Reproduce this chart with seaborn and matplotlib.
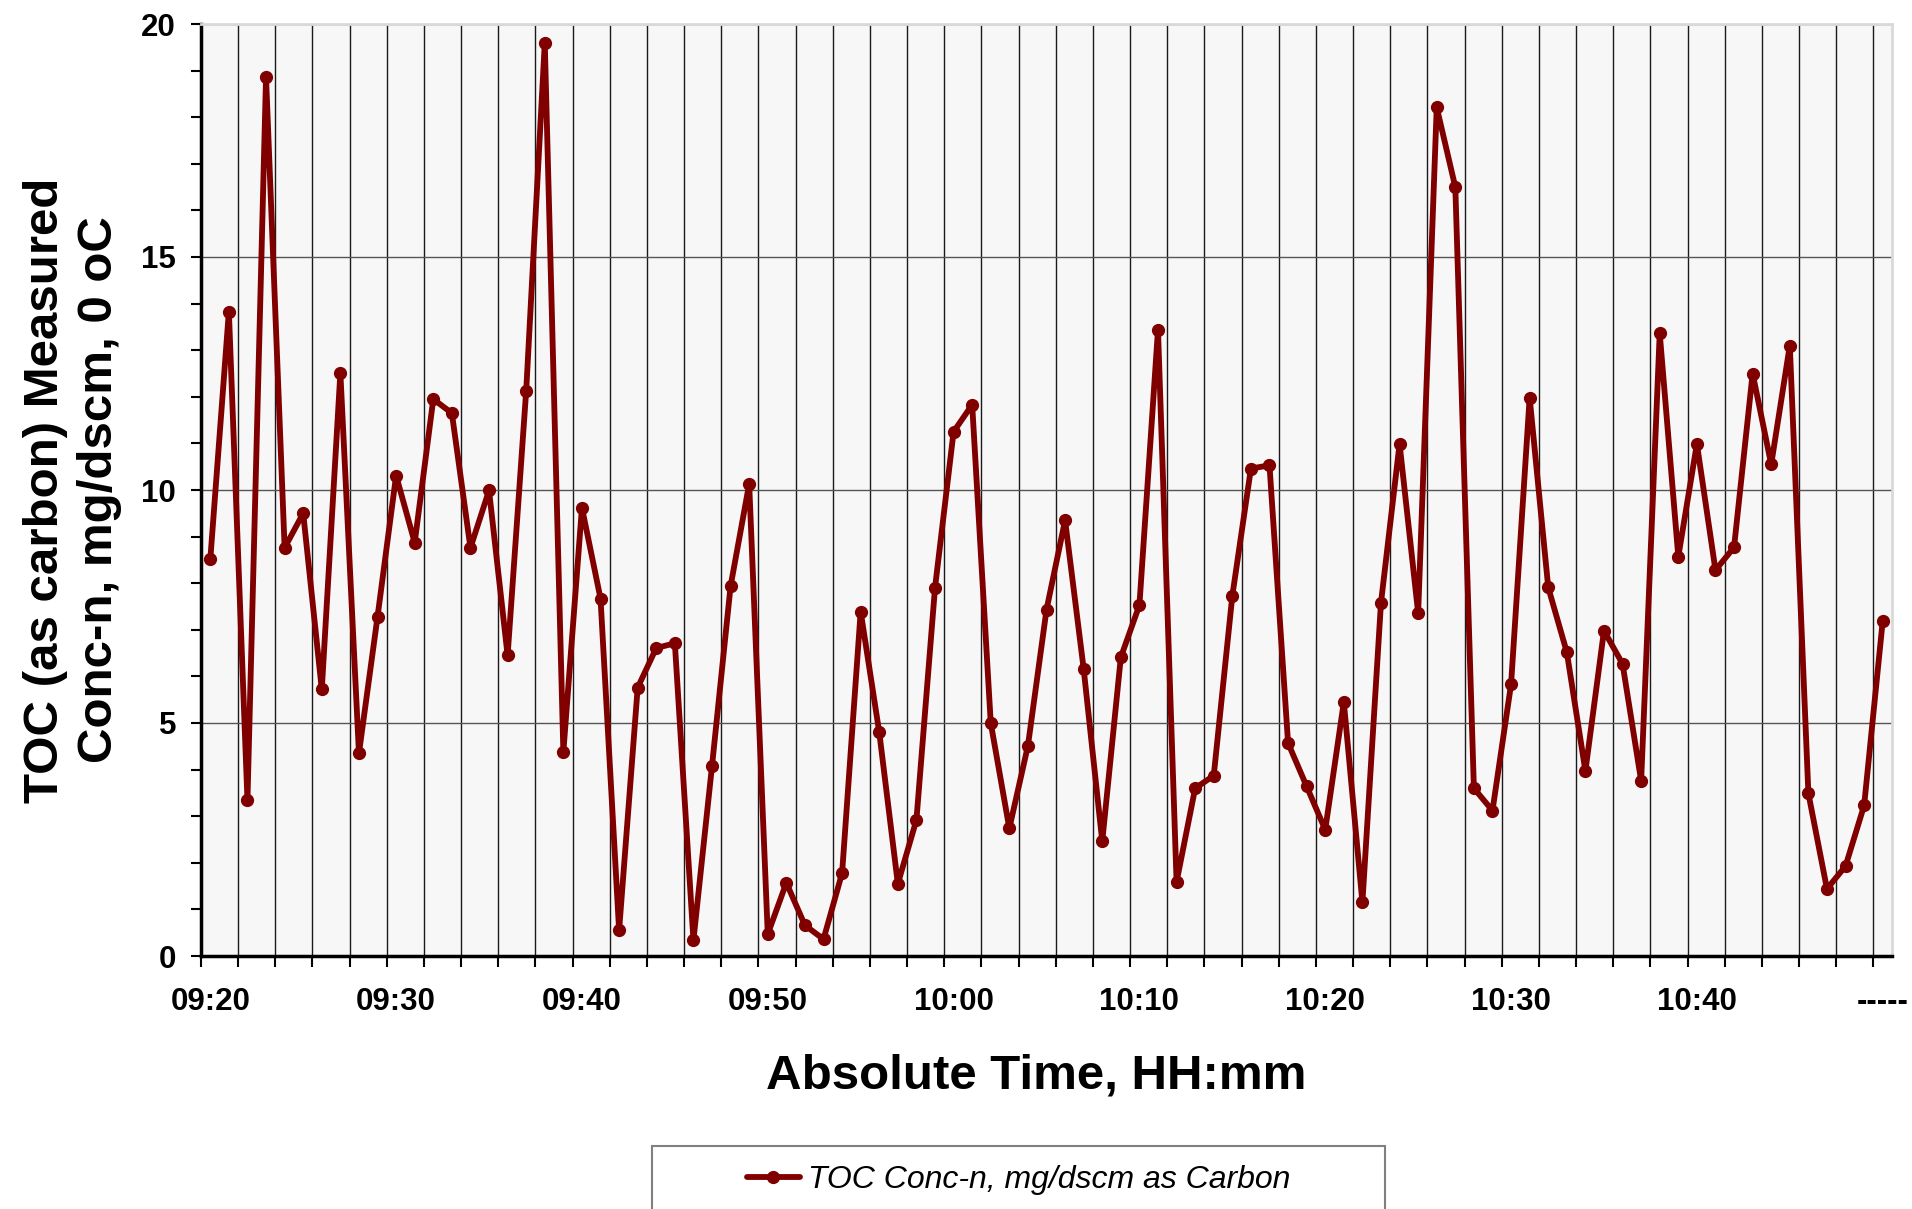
import numpy as np
import pandas as pd
import matplotlib
matplotlib.use('Agg')
import matplotlib.pyplot as plt
from matplotlib.patches import Rectangle
from matplotlib.ticker import MultipleLocator, FixedLocator
import seaborn as sns

# TOC readings, one per minute from 09:20
toc = [8.51, 13.83, 3.34, 18.86, 8.76, 9.50, 5.72, 12.51, 4.35, 7.28,
       10.31, 8.87, 11.95, 11.65, 8.76, 9.99, 6.45, 12.13, 19.59, 4.38,
       9.62, 7.67, 0.55, 5.76, 6.61, 6.71, 0.34, 4.08, 7.94, 10.13,
       0.47, 1.57, 0.66, 0.36, 1.78, 7.39, 4.80, 1.55, 2.92, 7.90,
       11.25, 11.83, 5.00, 2.74, 4.51, 7.43, 9.35, 6.16, 2.46, 6.41,
       7.53, 13.44, 1.59, 3.60, 3.87, 7.73, 10.46, 10.53, 4.57, 3.64,
       2.71, 5.45, 1.15, 7.58, 10.99, 7.36, 18.21, 16.50, 3.60, 3.12,
       5.83, 11.98, 7.91, 6.52, 3.97, 6.98, 6.27, 3.76, 13.36, 8.57,
       10.99, 8.28, 8.77, 12.50, 10.55, 13.10, 3.49, 1.44, 1.93, 3.23,
       7.19]
tick_labels = ['09:20', '09:30', '09:40', '09:50', '10:00', '10:10',
               '10:20', '10:30', '10:40', '-----']
series_name = 'TOC Conc-n, mg/dscm as Carbon'

df = pd.DataFrame({'idx': np.arange(len(toc)), 'toc': toc})

sns.set_theme(style='white')
plt.rcParams['font.family'] = ['Liberation Sans', 'DejaVu Sans']
plt.rcParams.update({'text.color': 'black', 'axes.labelcolor': 'black',
                     'xtick.color': 'black', 'ytick.color': 'black'})

fig = plt.figure(figsize=(19.12, 12.09), dpi=100)
ax = fig.add_axes([201/1912, 1-956/1209, 1691/1912, 932/1209])
ax.set_facecolor('#f7f7f7')

red = '#800000'
sns.lineplot(data=df, x='idx', y='toc', ax=ax, color=red, linewidth=4.2,
             marker='o', markersize=8.5, markeredgecolor=red, markeredgewidth=1,
             sort=False, estimator=None)
line = ax.lines[0]
line.set_label(series_name)

n = len(toc)
ax.set_xlim(-0.5, n - 0.5)
ax.set_ylim(0, 20)

# x: ticks + grid on category boundaries every 2, labels every 10 categories
ax.xaxis.set_major_locator(FixedLocator(np.arange(-0.5, n - 1, 2)))
ax.xaxis.set_major_formatter(plt.NullFormatter())
ax.xaxis.set_minor_locator(FixedLocator(np.arange(0, n, 10)))
ax.set_xticklabels(tick_labels, minor=True)
ax.tick_params(axis='x', which='major', direction='out', length=8, width=1.5,
               color='black', bottom=True)
ax.tick_params(axis='x', which='minor', length=0, pad=22, labelsize=22.5,
               bottom=True)
for t in ax.get_xticklabels(minor=True):
    t.set_fontweight('bold')

# y: major every 5, minor every 1
ax.yaxis.set_major_locator(MultipleLocator(5))
ax.yaxis.set_minor_locator(MultipleLocator(1))
ax.tick_params(axis='y', which='both', direction='out', length=7, width=1.5,
               color='black', left=True, pad=11, labelsize=22.5)
for t in ax.get_yticklabels():
    t.set_fontweight('bold')

ax.grid(False)
ax.xaxis.grid(True, which='major', color='#1a1a1a', linewidth=1.0)
ax.yaxis.grid(True, which='major', color='#555555', linewidth=1.0)
ax.set_axisbelow(True)

for side in ['left', 'bottom']:
    ax.spines[side].set_color('black')
    ax.spines[side].set_linewidth(2.5)
for side in ['top', 'right']:
    ax.spines[side].set_color('#d9d9d9')
    ax.spines[side].set_linewidth(2)

ax.set_xlabel('Absolute Time, HH:mm', fontsize=35.5, fontweight='bold')
ax.set_ylabel('TOC (as carbon) Measured\nConc-n, mg/dscm, 0 oC',
              fontsize=35.5, fontweight='bold', linespacing=1.25)
ax.xaxis.set_label_coords(0.494, -0.105)
ax.yaxis.set_label_coords(-0.047, 0.5)

# legend box runs off the bottom of the figure
box = Rectangle((652/1912, -0.05), 733/1912, 0.05 + 1 - 1146/1209,
                transform=fig.transFigure, facecolor='white',
                edgecolor='#808080', linewidth=1.5, zorder=0)
fig.patches.append(box)
fig.legend([line], [series_name], loc='center', frameon=False,
           bbox_to_anchor=(1018.5/1912, 1-1180/1209),
           handlelength=1.66, handletextpad=0.25,
           prop={'size': 23, 'style': 'italic'})

fig.savefig('out.png', dpi=100)
